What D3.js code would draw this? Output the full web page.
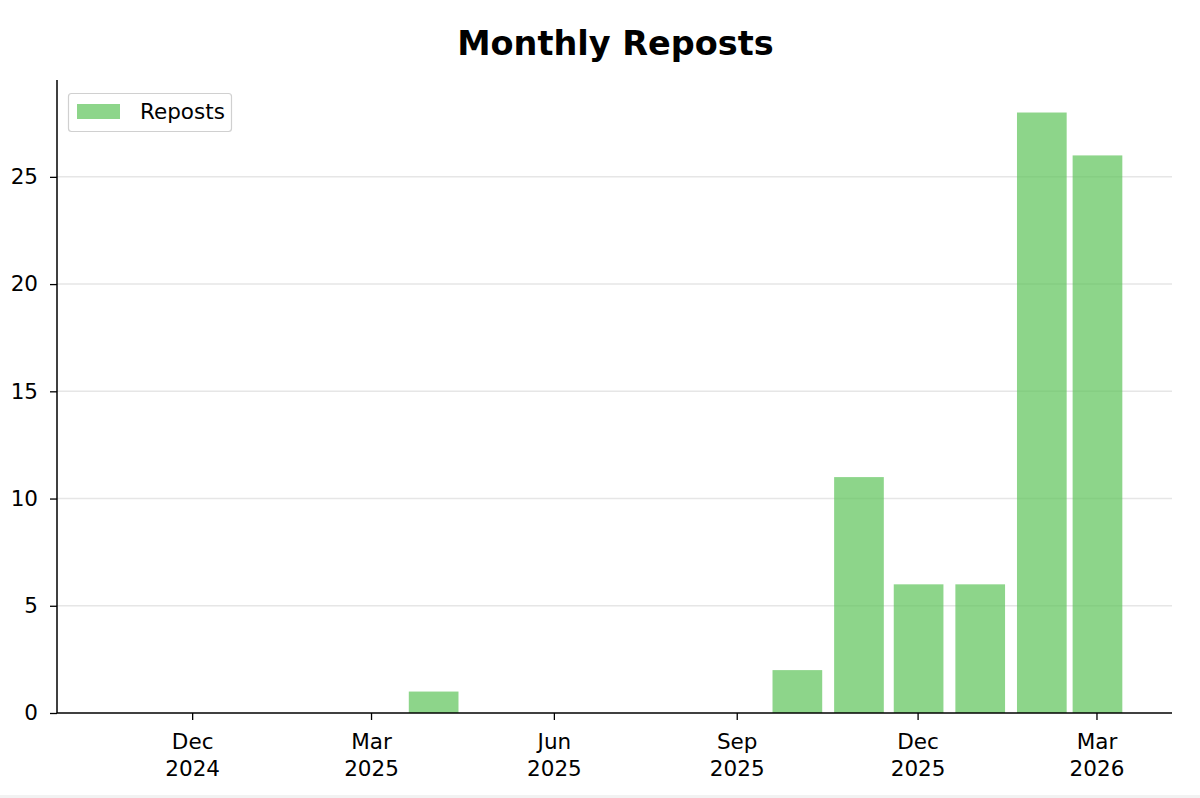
<!DOCTYPE html>
<html>
<head>
<meta charset="utf-8">
<script src="https://cdn.jsdelivr.net/npm/d3@7"></script>
<style>
  html, body { margin: 0; padding: 0; background: #fff; }
  svg { display: block; font-family: "DejaVu Sans", sans-serif; }
</style>
</head>
<body>
<svg id="chart" width="1200" height="798"></svg>
<script>
const months = ["2024-11","2024-12","2025-01","2025-02","2025-03","2025-04","2025-05","2025-06","2025-07","2025-08","2025-09","2025-10","2025-11","2025-12","2026-01","2026-02","2026-03"];
const reposts = [0,0,0,0,0,1,0,0,0,0,0,2,11,6,6,28,26];
const yTicks = [0,5,10,15,20,25];
const xTickMonths = ["2024-12","2025-03","2025-06","2025-09","2025-12","2026-03"];
const seriesName = "Reposts";
const title = "Monthly Reposts";

const svg = d3.select("#chart");
const W = 1200, H = 798;
const m = {left: 57, right: 1172, top: 82.5, bottom: 713};
const FS = 21.5;
const parse = d3.utcParse("%Y-%m");
const dates = months.map(parse);
const DAY = 864e5;
const halfW = 12.5 * DAY;
const lo = +dates[0] - halfW, hi = +dates[dates.length-1] + halfW;
const pad = (hi - lo) * 0.05;
const x = d3.scaleUtc().domain([new Date(lo - pad), new Date(hi + pad)]).range([m.left, m.right]);
const yMax = d3.max(reposts) * 1.05;
const y = d3.scaleLinear().domain([0, yMax]).range([m.bottom, m.top]);

svg.append("rect").attr("x",0).attr("y",H-3).attr("width",W).attr("height",3).attr("fill","#f2f2f2");

// grid
svg.append("g").selectAll("line").data(yTicks.filter(d=>d>0)).join("line")
  .attr("x1", m.left).attr("x2", m.right)
  .attr("y1", d=>y(d)).attr("y2", d=>y(d))
  .attr("stroke", "#e6e6e6").attr("stroke-width", 1.5);

// bars
svg.append("g").selectAll("rect").data(reposts.map((v,i)=>({d:dates[i], v}))).join("rect")
  .attr("x", d => x(new Date(+d.d - halfW)) + 1)
  .attr("width", d => x(new Date(+d.d + halfW)) - x(new Date(+d.d - halfW)))
  .attr("y", d => y(d.v))
  .attr("height", d => y(0) - y(d.v))
  .attr("fill", "#5cc359").attr("fill-opacity", 0.7);

// y axis
const yAxis = d3.axisLeft(y).tickValues(yTicks).tickSize(7).tickPadding(12);
const gy = svg.append("g").attr("transform", `translate(${m.left},0)`).call(yAxis);
gy.attr("font-size", null).attr("font-family", null);
gy.select(".domain").attr("d", `M0,${m.top - 2.5}V${m.bottom}`).attr("stroke","#000").attr("stroke-width",1.5);
gy.selectAll(".tick line").attr("stroke","#000").attr("stroke-width",1.3);
gy.selectAll(".tick text").style("font-size", FS + "px").attr("fill","#000").style("font-family","DejaVu Sans");

// x axis
const fmtM = d3.utcFormat("%b"), fmtY = d3.utcFormat("%Y");
const xAxis = d3.axisBottom(x).tickValues(xTickMonths.map(parse)).tickSize(7).tickFormat("");
const gx = svg.append("g").attr("transform", `translate(0,${m.bottom})`).call(xAxis);
gx.attr("font-size", null).attr("font-family", null);
gx.select(".domain").attr("d", `M${m.left},0H${m.right}`).attr("stroke","#000").attr("stroke-width",1.5);
gx.selectAll(".tick line").attr("stroke","#000").attr("stroke-width",1.3);
gx.selectAll(".tick").each(function(d){
  const t = d3.select(this).append("text").attr("fill","#000")
    .style("font-size", FS + "px").style("font-family","DejaVu Sans").attr("text-anchor","middle");
  t.append("tspan").attr("x",0).attr("y",36).text(fmtM(d));
  t.append("tspan").attr("x",0).attr("y",63).text(fmtY(d));
});

// title
svg.append("text").attr("x", (m.left+m.right)/2 + 1).attr("y", 55)
  .attr("text-anchor","middle").style("font-size", "33.5px").attr("font-weight","bold")
  .attr("fill","#000").text(title);

// legend
const lg = svg.append("g");
lg.append("rect").attr("x",68.5).attr("y",93.5).attr("width",163).attr("height",38).attr("rx",3)
  .attr("fill","#fff").attr("fill-opacity",0.8).attr("stroke","#d0d0d0").attr("stroke-width",1.2);
lg.append("rect").attr("x",77).attr("y",104).attr("width",43).attr("height",15)
  .attr("fill","#5cc359").attr("fill-opacity",0.7);
lg.append("text").attr("x",140).attr("y",119).style("font-size", FS + "px").attr("fill","#000").text(seriesName);
</script>
</body>
</html>
